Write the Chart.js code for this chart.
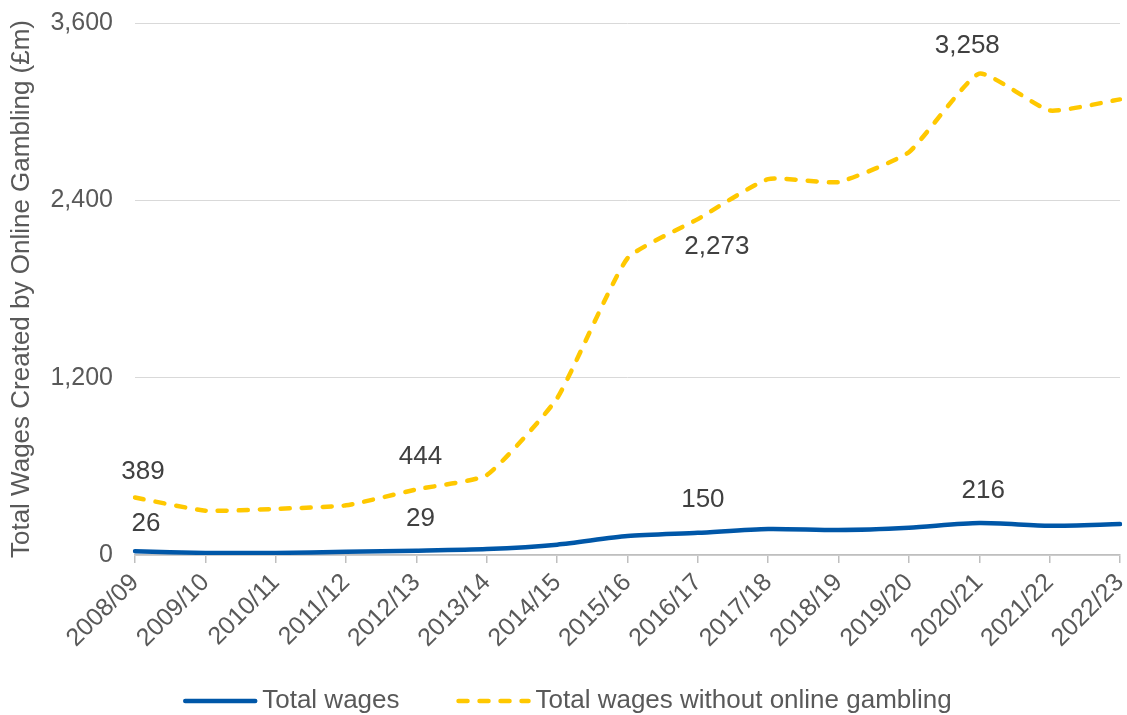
<!DOCTYPE html>
<html>
<head>
<meta charset="utf-8">
<script src="https://cdn.jsdelivr.net/npm/chart.js@4.4.0/dist/chart.umd.min.js"></script>
<style>
  html, body { margin: 0; padding: 0; background: #fff; }
  #wrap { width: 1127px; height: 715px; }
</style>
</head>
<body>
<div id="wrap"><canvas id="wagesChart"></canvas></div>
<script>
const years = ['2008/09', '2009/10', '2010/11', '2011/12', '2012/13', '2013/14', '2014/15',
    '2015/16', '2016/17', '2017/18', '2018/19', '2019/20', '2020/21', '2021/22', '2022/23'];
const totalWages = [26, 14, 14, 22, 29, 40, 70, 128, 150, 176, 169, 185, 216, 198, 209];
const wagesWithoutOnline = [389, 300, 312, 336, 444, 541, 1061, 2008, 2273, 2544, 2524, 2726, 3258, 3008, 3083];
const yTicks = [0, 1200, 2400, 3600];

const FONT = '"Liberation Sans", Arial, sans-serif';

// value labels drawn next to selected points
const valueLabels = {
    id: 'valueLabels',
    afterDatasetsDraw(chart, args, opts) {
        const ctx = chart.ctx;
        ctx.save();
        ctx.font = '26px ' + FONT;
        ctx.fillStyle = '#404040';
        ctx.textAlign = 'center';
        ctx.textBaseline = 'middle';
        chart.data.datasets.forEach((ds, di) => {
            const meta = chart.getDatasetMeta(di);
            (opts.points[di] || []).forEach(p => {
                const idx = chart.data.labels.indexOf(p.year);
                const pt = meta.data[idx];
                ctx.fillText(ds.data[idx].toLocaleString('en-GB'), pt.x + p.dx, pt.y + p.dy);
            });
        });
        ctx.restore();
    }
};

// legend with long line samples, centred under the chart
const lineLegend = {
    id: 'lineLegend',
    afterDraw(chart, args, opts) {
        const ctx = chart.ctx;
        ctx.save();
        ctx.font = '26px ' + FONT;
        ctx.textBaseline = 'middle';
        const items = chart.data.datasets.map(ds => ({
            ds: ds,
            w: opts.sample + opts.textGap + ctx.measureText(ds.label).width
        }));
        const total = items.reduce((s, it) => s + it.w, 0) + opts.itemGap * (items.length - 1);
        let x = chart.width / 2 + opts.shift - total / 2;
        const y = chart.height - opts.bottom;
        items.forEach(it => {
            ctx.strokeStyle = it.ds.borderColor;
            ctx.lineWidth = it.ds.borderWidth;
            ctx.lineCap = it.ds.borderCapStyle;
            ctx.setLineDash(it.ds.borderDash || []);
            ctx.beginPath();
            ctx.moveTo(x, y);
            ctx.lineTo(x + opts.sample, y);
            ctx.stroke();
            ctx.fillStyle = '#595959';
            ctx.fillText(it.ds.label, x + opts.sample + opts.textGap, y);
            x += it.w + opts.itemGap;
        });
        ctx.restore();
    }
};

new Chart(document.getElementById('wagesChart').getContext('2d'), {
    type: 'line',
    data: {
        labels: years,
        datasets: [{
            label: 'Total wages',
            data: totalWages,
            borderColor: '#0057A8',
            borderWidth: 4.5,
            borderCapStyle: 'round',
            pointRadius: 0,
            tension: 0.25
        }, {
            label: 'Total wages without online gambling',
            data: wagesWithoutOnline,
            borderColor: '#FFC800',
            borderWidth: 4.5,
            borderDash: [9, 12],
            borderCapStyle: 'round',
            pointRadius: 0,
            tension: 0.15
        }]
    },
    plugins: [valueLabels, lineLegend],
    options: {
        responsive: true,
        maintainAspectRatio: false,
        animation: false,
        layout: { padding: { top: 23, right: 7, bottom: 60, left: 0 } },
        plugins: {
            legend: { display: false },
            tooltip: { enabled: false },
            valueLabels: {
                points: [
                    [
                        { year: '2008/09', dx: 11, dy: -27 },
                        { year: '2012/13', dx: 4, dy: -32 },
                        { year: '2016/17', dx: 5, dy: -33 },
                        { year: '2020/21', dx: 4, dy: -32 }
                    ],
                    [
                        { year: '2008/09', dx: 8, dy: -26 },
                        { year: '2012/13', dx: 4, dy: -33 },
                        { year: '2016/17', dx: 19, dy: 28 },
                        { year: '2020/21', dx: -12, dy: -28 }
                    ]
                ]
            },
            lineLegend: { sample: 70, textGap: 7, itemGap: 59, shift: 5, bottom: 14 }
        },
        scales: {
            x: {
                afterFit: s => {
                    s.height = 100;
                    s.paddingLeft = 0;
                    s.paddingRight = 0;
                },
                grid: {
                    drawOnChartArea: false,
                    drawTicks: true,
                    tickLength: 8,
                    color: '#BFBFBF',
                    lineWidth: 1.5
                },
                border: { display: true, color: '#BFBFBF', width: 1.5 },
                ticks: {
                    autoSkip: false,
                    minRotation: 45,
                    maxRotation: 45,
                    padding: 5,
                    color: '#595959',
                    font: { family: FONT, size: 25 }
                }
            },
            y: {
                min: 0,
                max: 3600,
                afterFit: s => {
                    s.width = 135;
                    s.paddingTop = 0;
                    s.paddingBottom = 0;
                },
                afterBuildTicks: s => { s.ticks = yTicks.map(v => ({ value: v })); },
                grid: { color: '#D9D9D9', lineWidth: 1, drawTicks: false },
                border: { display: false },
                ticks: {
                    padding: 22,
                    color: '#595959',
                    font: { family: FONT, size: 25 },
                    callback: v => v.toLocaleString('en-GB')
                },
                title: {
                    display: true,
                    text: 'Total Wages Created by Online Gambling (£m)',
                    color: '#595959',
                    font: { family: FONT, size: 26 },
                    padding: { top: 6, bottom: 0 }
                }
            }
        }
    }
});
</script>
</body>
</html>
